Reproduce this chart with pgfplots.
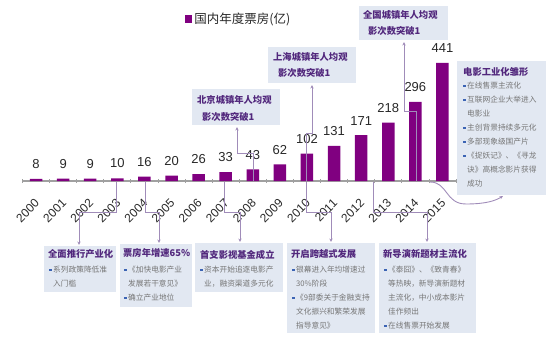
\documentclass[border=0pt]{standalone}
\usepackage{pgfplots}
\pgfplotsset{compat=1.18}
\usepackage{fontspec}
\setmainfont{Liberation Sans}
\newfontfamily\cjk{Noto Sans CJK SC}
\usetikzlibrary{arrows.meta}
\definecolor{barpurple}{RGB}{128,0,128}
\definecolor{boxfill}{RGB}{226,232,242}
\definecolor{titlepurple}{RGB}{82,40,125}
\definecolor{bulgray}{RGB}{118,118,118}
\definecolor{bulblue}{RGB}{60,100,180}
\definecolor{linepurple}{RGB}{160,140,185}
\definecolor{axisgray}{RGB}{160,160,160}
\definecolor{txtdark}{RGB}{40,40,40}
\newcommand\bul{{\color{bulblue}\rule[0.25em]{0.3em}{0.3em}}\hspace{0.22em}}
\newcommand\tf{\cjk\bfseries\fontsize{9.3bp}{11bp}\selectfont\color{titlepurple}}
\newcommand\bt{\cjk\fontsize{7.7bp}{9bp}\selectfont\color{bulgray}}
\begin{document}
\begin{tikzpicture}
\useasboundingbox (-22.5bp,-157bp) rectangle (523.5bp,181bp);
\begin{axis}[
  at={(0,0)}, anchor=south west,
  scale only axis, width=433.5bp, height=181bp,
  xmin=-0.5, xmax=15.5, ymin=0, ymax=676.4,
  ybar, bar width=12.5bp,
  axis x line*=bottom, axis y line=none,
  x axis line style={-, draw=axisgray, line width=1.3bp},
  xtick={0,...,15},
  xticklabels={2000,2001,2002,2003,2004,2005,2006,2007,2008,2009,2010,2011,2012,2013,2014,2015},
  major tick length=0pt,
  minor xtick={-0.5,0.5,...,15.5},
  minor tick length=4bp,
  tick align=center,
  minor tick style={draw=axisgray, line width=0.8bp},
  every x tick label/.append style={inner sep=0pt, xshift=-2bp, yshift=-17bp, rotate=45, anchor=north east, font=\fontsize{12bp}{12bp}\selectfont, text=txtdark},
  clip=false,
  nodes near coords,
  every node near coord/.append style={font=\fontsize{13bp}{13bp}\selectfont, text=txtdark, inner sep=0pt, anchor=south, yshift=10bp},
  /pgf/number format/assume math mode=true,
  legend style={at={(rel axis cs:0.375,0.895)}, anchor=west, draw=none, fill=none, inner sep=0pt, font=\cjk\fontsize{12.5bp}{14bp}\selectfont, text=txtdark},
  legend image code/.code={\fill[barpurple] (0bp,-3.6bp) rectangle (7.2bp,3.6bp);},
]
\addplot[fill=barpurple, draw=none] coordinates {(0,8)(1,9)(2,9)(3,10)(4,16)(5,20)(6,26)(7,33)(8,43)(9,62)(10,102)(11,131)(12,171)(13,218)(14,296)(15,441)};
\addlegendentry{国内年度票房(亿)}
\end{axis}
\begin{scope}[x=1bp,y=-1bp,shift={(-22.5bp,181bp)}]
% boxes
\fill[boxfill] (192,89) rectangle (280,125);
\fill[boxfill] (268,47) rectangle (356,83);
\fill[boxfill] (359,6) rectangle (448,40);
\fill[boxfill] (457,61) rectangle (546,195);
\fill[boxfill] (44,246) rectangle (116,292);
\fill[boxfill] (120,244) rectangle (192,307);
\fill[boxfill] (195,243) rectangle (283,292);
\fill[boxfill] (287,243) rectangle (375,333);
\fill[boxfill] (379,243) rectangle (476,333);
\begin{scope}[every node/.style={anchor=west, inner sep=0pt}]
\node at (197,100) {\tf 北京城镇年人均观};
\node at (202,117) {\tf 影次数突破1};
\node at (273,57) {\tf 上海城镇年人均观};
\node at (278,73) {\tf 影次数突破1};
\node at (363,15) {\tf 全国城镇年人均观};
\node at (368,31) {\tf 影次数突破1};
% right box
\node at (463,72) {\tf 电影工业化雏形};
\node at (463,86) {\bt\bul 在线售票主流化};
\node at (463,100) {\bt\bul 互联网企业大举进入};
\node at (467,114) {\bt 电影业};
\node at (463,128) {\bt\bul 主创背景持续多元化};
\node at (463,142) {\bt\bul 多部现象级国产片};
\node at (463,156) {\bt\bul 《捉妖记》、《寻龙};
\node at (467,170) {\bt 诀》高概念影片获得};
\node at (467,184) {\bt 成功};
% A
\node at (48,254) {\tf 全面推行产业化};
\node at (49,270) {\bt\bul 系列政策降低准};
\node at (53,284) {\bt 入门槛};
% B
\node at (123,253) {\tf 票房年增速65\%};
\node at (124,270) {\bt\bul 《加快电影产业};
\node at (128,284) {\bt 发展若干意见》};
\node at (124,298) {\bt\bul 确立产业地位};
% C
\node at (200,255) {\tf 首支影视基金成立};
\node at (200,270) {\bt\bul 资本开始追逐电影产};
\node at (204,284) {\bt 业，融资渠道多元化};
% D
\node at (291,254) {\tf 开启跨越式发展};
\node at (292,270) {\bt\bul 银幕进入年均增速过};
\node at (296,284) {\bt 30\%阶段};
\node at (292,298) {\bt\bul 《9部委关于金融支持};
\node at (296,312) {\bt 文化振兴和繁荣发展};
\node at (296,326) {\bt 指导意见》};
% E
\node at (383,254) {\tf 新导演新题材主流化};
\node at (384,270) {\bt\bul 《泰囧》、《致青春》};
\node at (388,284) {\bt 等热映，新导演新题材};
\node at (388,298) {\bt 主流化，中小成本影片};
\node at (388,312) {\bt 佳作频出};
\node at (384,326) {\bt\bul 在线售票开始发展};
\end{scope}
% connectors
\begin{scope}[draw=linepurple, line width=0.9bp, -{Stealth[length=3.5bp,width=3.2bp]}]
\draw (253,181) -- (253,153) -- (237,153) -- (237,127);
\draw (306,181) -- (306,133) -- (312,133) -- (312,85);
\draw (416,181) -- (416,111) -- (404,111) -- (404,42);
\draw (116,182) -- (116,212) -- (79,212) -- (79,245);
\draw (145,182) -- (145,212) -- (159,212) -- (159,243);
\draw (224,182) -- (224,212) -- (240,212) -- (240,242);
\draw (306,182) -- (306,212) -- (331,212) -- (331,242);
\draw (373,182) -- (373,212) -- (427,212) -- (427,242);
\draw (430,182) .. controls (448,182) and (445,204) .. (466,204) .. controls (485,204) and (495,201) .. (503,196);
\end{scope}
\end{scope}
\end{tikzpicture}
\end{document}
